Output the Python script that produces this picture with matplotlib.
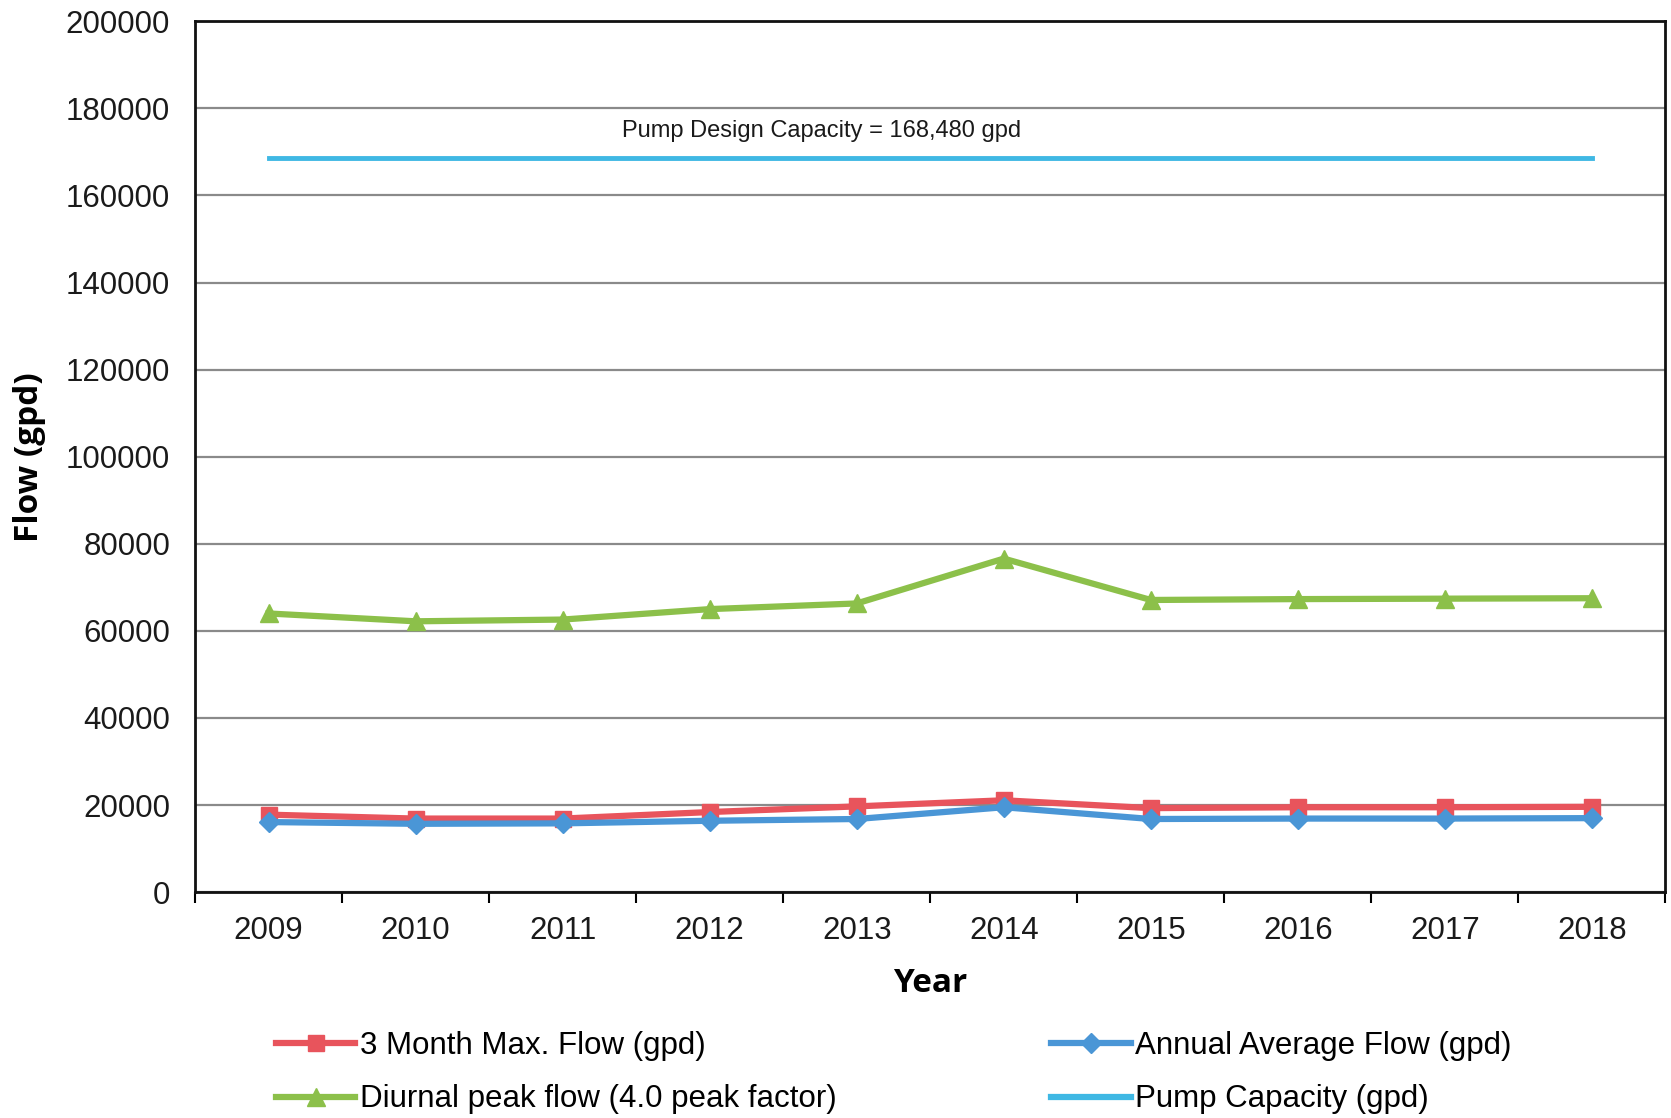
import matplotlib
matplotlib.use("Agg")
import matplotlib.pyplot as plt
from matplotlib.lines import Line2D

# Flow data by year (gallons per day)
years = ["2009", "2010", "2011", "2012", "2013", "2014", "2015", "2016", "2017", "2018"]
max_3month = [17800, 16900, 16900, 18400, 19700, 21100, 19300, 19500, 19500, 19600]
annual_avg = [16100, 15700, 15800, 16400, 16800, 19500, 16800, 16900, 16900, 17000]
diurnal_peak = [64000, 62200, 62600, 65000, 66300, 76600, 67100, 67300, 67400, 67500]
pump_capacity = [168480] * len(years)
y_ticks = [0, 20000, 40000, 60000, 80000, 100000, 120000, 140000, 160000, 180000, 200000]

RED = "#e8545c"
BLUE = "#4a96d6"
GREEN = "#8cc04a"
CYAN = "#3fb8e4"

plt.rcParams["font.family"] = ["Liberation Sans", "DejaVu Sans"]

fig = plt.figure(figsize=(16.71, 11.18), dpi=100)
ax = fig.add_axes([0.1167, 0.202, 0.880, 0.779])

x = list(range(len(years)))

ax.plot(x, pump_capacity, color=CYAN, lw=3.5, zorder=3)
ax.plot(x, diurnal_peak, color=GREEN, lw=4.5, marker="^", ms=13, zorder=4)
ax.plot(x, max_3month, color=RED, lw=4.5, marker="s", ms=12, zorder=4)
ax.plot(x, annual_avg, color=BLUE, lw=4.5, marker="D", ms=10, zorder=5)

ax.text(3.76, 172300, "Pump Design Capacity = 168,480 gpd", fontsize=17,
        ha="center", va="bottom", color="#1a1a1a")

ax.set_xlim(-0.5, len(years) - 0.5)
ax.set_ylim(0, 200000)
ax.set_yticks(y_ticks)
ax.set_yticklabels([str(v) for v in y_ticks], fontsize=22.5, color="#1a1a1a")
ax.tick_params(axis="y", length=0, pad=18)

# Category boundaries get the tick marks; labels sit at category centres
ax.set_xticks([i - 0.5 for i in range(len(years) + 1)])
ax.set_xticklabels([])
ax.set_xticks(x, minor=True)
ax.set_xticklabels(years, minor=True, fontsize=22.5, color="#1a1a1a")
ax.tick_params(axis="x", which="major", length=8, width=1.5, direction="out")
ax.tick_params(axis="x", which="minor", length=0, pad=17)

ax.grid(axis="y", color="#8a8a8a", lw=1.6)
ax.set_axisbelow(True)
for side in ["left", "bottom", "top", "right"]:
    ax.spines[side].set_linewidth(2)
    ax.spines[side].set_color("#111111")

ax.set_xlabel("Year", fontsize=24, fontweight="bold", family="Open Sans", labelpad=15)
ax.set_ylabel("Flow (gpd)", fontsize=24, fontweight="bold", family="Open Sans", labelpad=14)

h_red = Line2D([], [], color=RED, lw=4.5, marker="s", ms=12)
h_green = Line2D([], [], color=GREEN, lw=4.5, marker="^", ms=13)
h_blue = Line2D([], [], color=BLUE, lw=4.5, marker="D", ms=10)
h_cyan = Line2D([], [], color=CYAN, lw=4.5)

leg_kw = dict(fontsize=22.5, frameon=False, handlelength=2.55, handletextpad=0.15,
              labelspacing=0.74, borderpad=0, borderaxespad=0, loc="upper left")
leg1 = fig.legend([h_red, h_green], ["3 Month Max. Flow (gpd)", "Diurnal peak flow (4.0 peak factor)"],
                  bbox_to_anchor=(0.165, 0.0775), **leg_kw)
leg2 = fig.legend([h_blue, h_cyan], ["Annual Average Flow (gpd)", "Pump Capacity (gpd)"],
                  bbox_to_anchor=(0.629, 0.0775), **leg_kw)

fig.savefig("out.png", dpi=100, facecolor="white")
